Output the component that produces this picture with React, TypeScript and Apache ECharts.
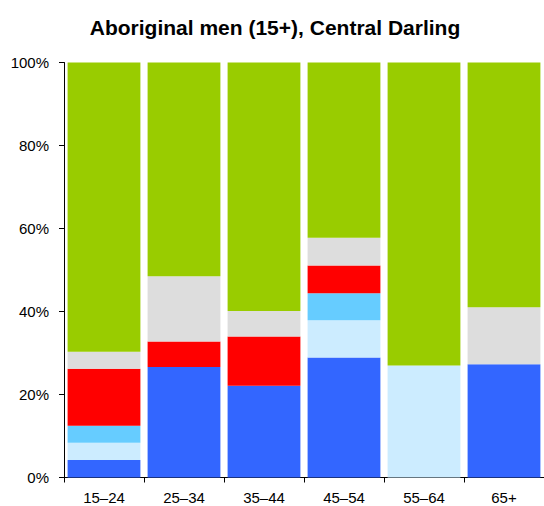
import React, { useEffect, useRef } from "react";
import * as echarts from "echarts";

const categories = ["15–24", "25–34", "35–44", "45–54", "55–64", "65+"];
const seriesBlue = [4.2, 26.6, 22.1, 28.9, 0, 27.3];
const seriesLightBlue = [4.2, 0, 0, 9.0, 27.0, 0];
const seriesCyan = [4.1, 0, 0, 6.5, 0, 0];
const seriesRed = [13.7, 6.2, 11.9, 6.7, 0, 0];
const seriesGrey = [4.1, 15.7, 6.1, 6.7, 0, 13.7];
const seriesGreen = [69.7, 51.5, 59.9, 42.2, 73.0, 59.0];
const yTicks = [0, 20, 40, 60, 80, 100];

const colors = ["#3366FF", "#CCECFF", "#66CCFF", "#FF0000", "#DDDDDD", "#99CC00"];

export default function App() {
  const ref = useRef<HTMLDivElement>(null);
  useEffect(() => {
    if (!ref.current) return;
    const chart = echarts.init(ref.current, null, { renderer: "svg" });
    const all = [seriesBlue, seriesLightBlue, seriesCyan, seriesRed, seriesGrey, seriesGreen];
    const font = "Liberation Sans, Arial, sans-serif";
    chart.setOption({
      animation: false,
      title: {
        text: "Aboriginal men (15+), Central Darling",
        left: 270,
        textAlign: "center",
        top: 12,
        textStyle: { fontFamily: font, fontWeight: "bold", fontSize: 21, color: "#000" },
      },
      grid: { left: 64, right: 0, top: 62.5, bottom: 28.5, containLabel: false },
      xAxis: {
        type: "category",
        data: categories,
        boundaryGap: true,
        axisLine: { show: true, lineStyle: { color: "#000", width: 1 } },
        axisTick: { show: true, alignWithLabel: false, length: 5, lineStyle: { color: "#000" } },
        axisLabel: { color: "#000", fontFamily: font, fontSize: 15, margin: 12 },
        splitLine: { show: false },
      },
      yAxis: {
        type: "value",
        min: yTicks[0],
        max: yTicks[yTicks.length - 1],
        interval: 20,
        axisLine: { show: true, lineStyle: { color: "#000", width: 1 } },
        axisTick: { show: true, length: 5, lineStyle: { color: "#000" } },
        axisLabel: { color: "#000", fontFamily: font, fontSize: 15, margin: 15, formatter: "{value}%" },
        splitLine: { show: false },
      },
      series: all.map((d, i) => ({
        type: "bar",
        name: "s" + i,
        stack: "total",
        data: d,
        barCategoryGap: "9%",
        itemStyle: { color: colors[i] },
      })),
    });
    return () => chart.dispose();
  }, []);
  return <div ref={ref} style={{ width: 544, height: 506, position: "absolute", left: 0, top: 0 }} />;
}
